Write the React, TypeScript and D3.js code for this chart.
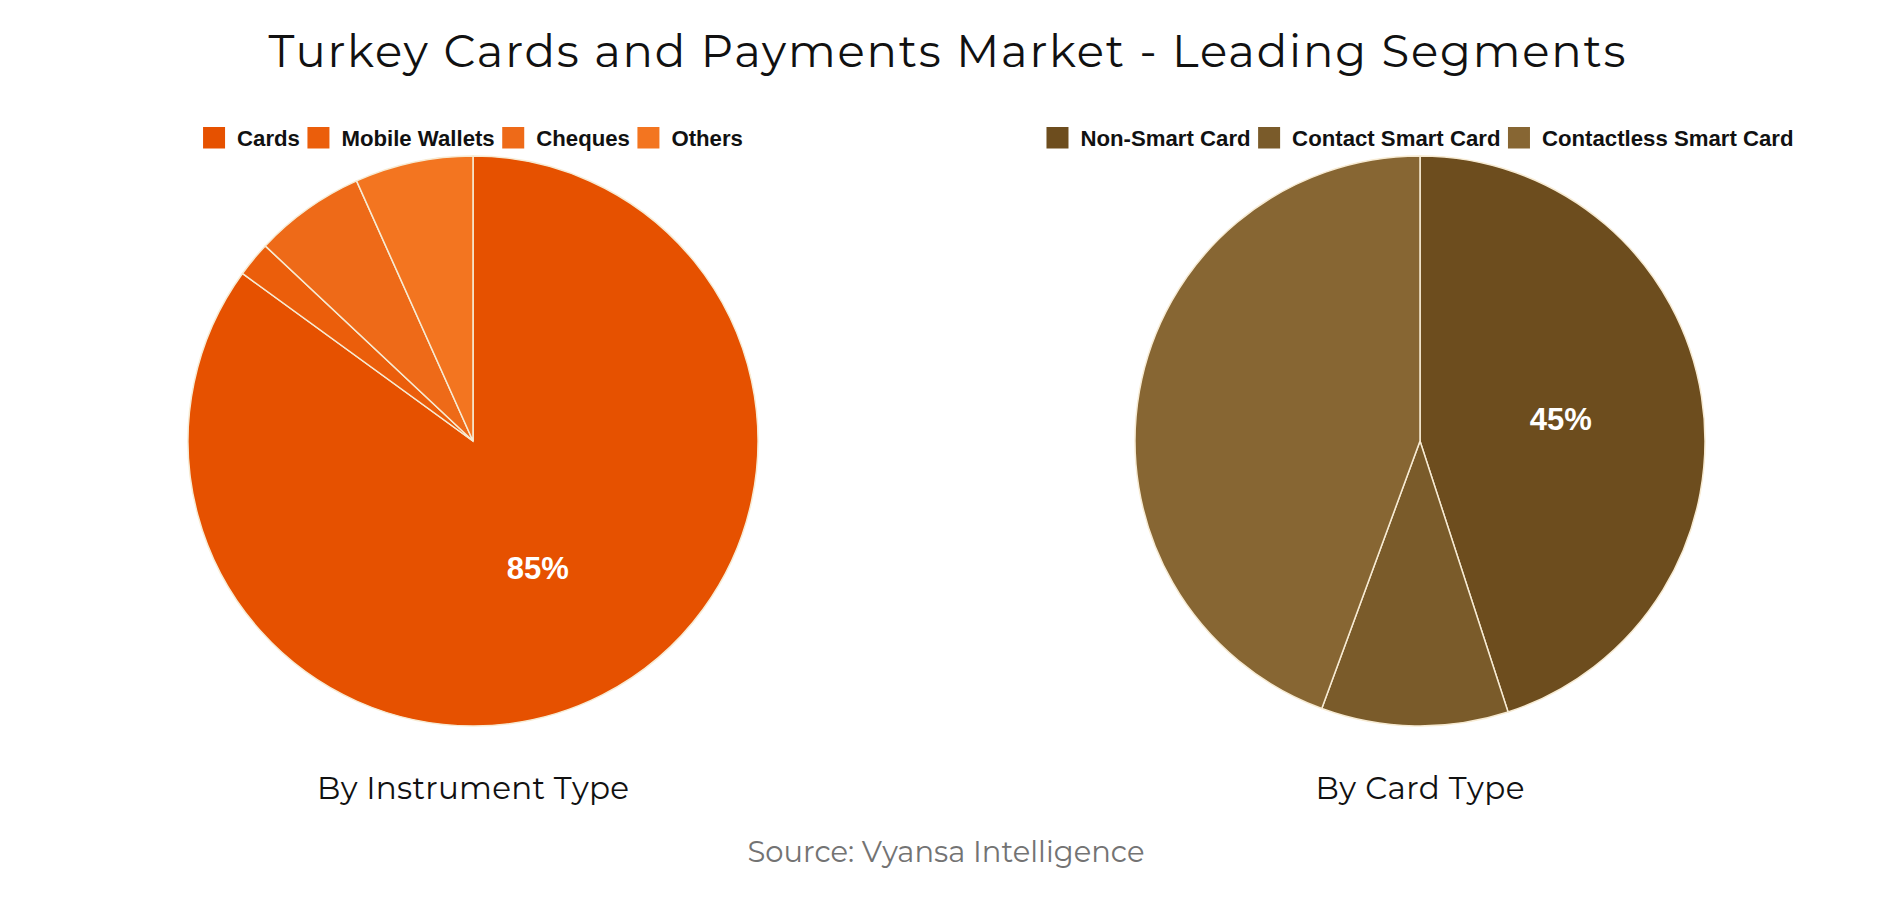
import { useEffect, useRef } from "react";
import * as d3 from "d3";

const instrumentLabels = ["Cards", "Mobile Wallets", "Cheques", "Others"];
const instrumentValues = [85, 2, 6.3, 6.7];
const instrumentColors = ["#E65100", "#EB5E0B", "#EE6A18", "#F37520"];

const cardLabels = ["Non-Smart Card", "Contact Smart Card", "Contactless Smart Card"];
const cardValues = [45, 10.6, 44.4];
const cardColors = ["#6D4D1E", "#7A5B2A", "#876633"];

const W = 1894;
const H = 900;
const R = 285;
const CY = 441;
const headFont = "Montserrat, 'Open Sans', sans-serif";
const bodyFont = "'Liberation Sans', Arial, sans-serif";

type PieSpec = {
  cx: number;
  labels: string[];
  values: number[];
  colors: string[];
  caption: string;
  captionW: number;
};

const pies: PieSpec[] = [
  { cx: 473, labels: instrumentLabels, values: instrumentValues, colors: instrumentColors, caption: "By Instrument Type", captionW: 312 },
  { cx: 1420, labels: cardLabels, values: cardValues, colors: cardColors, caption: "By Card Type", captionW: 209 },
];

export default function App() {
  const ref = useRef<SVGSVGElement>(null);

  useEffect(() => {
    if (!ref.current) return;
    document.body.style.margin = "0";
    const svg = d3.select(ref.current);
    svg.selectAll("*").remove();

    svg.append("rect").attr("width", W).attr("height", H).attr("fill", "#fff");

    svg.append("text")
      .attr("x", W / 2).attr("y", 67)
      .attr("text-anchor", "middle")
      .attr("font-family", headFont).attr("font-size", 45)
      .attr("fill", "#111")
      .attr("textLength", 1357).attr("lengthAdjust", "spacing")
      .text("Turkey Cards and Payments Market - Leading Segments");

    const pie = d3.pie<number>().sort(null).value((d) => d);
    const arc = d3.arc<d3.PieArcDatum<number>>().innerRadius(0).outerRadius(R);

    pies.forEach((p) => {
      const g = svg.append("g").attr("transform", `translate(${p.cx},${CY})`);
      const arcs = pie(p.values);
      g.selectAll("path")
        .data(arcs)
        .join("path")
        .attr("d", arc)
        .attr("fill", (_, i) => p.colors[i])
        .attr("stroke", "#F7EBD3")
        .attr("stroke-width", 1.5);

      // only the leading slice gets a label
      const [lx, ly] = arc.centroid(arcs[0]);
      g.append("text")
        .attr("x", lx).attr("y", ly)
        .attr("dy", "0.36em")
        .attr("text-anchor", "middle")
        .attr("font-family", bodyFont).attr("font-weight", "bold").attr("font-size", 31)
        .attr("fill", "#fff")
        .text(`${p.values[0]}%`);

      // legend, centred over the pie
      const leg = svg.append("g");
      const items = p.labels.map((l, i) => {
        const t = leg.append("text")
          .attr("font-family", bodyFont).attr("font-weight", "bold").attr("font-size", 22.2)
          .attr("fill", "#111")
          .attr("y", 145.5)
          .text(l);
        const w = (t.node() as SVGTextElement).getComputedTextLength();
        return { t, w, i };
      });
      const sq = 22, gapIn = 12, gapOut = 7.5;
      const total = d3.sum(items, (d) => sq + gapIn + d.w) + gapOut * (items.length - 1);
      let x = p.cx - total / 2;
      items.forEach((d) => {
        leg.append("rect")
          .attr("x", x).attr("y", 127)
          .attr("width", sq).attr("height", 21.5)
          .attr("fill", p.colors[d.i]);
        d.t.attr("x", x + sq + gapIn);
        x += sq + gapIn + d.w + gapOut;
      });

      svg.append("text")
        .attr("x", p.cx).attr("y", 799)
        .attr("text-anchor", "middle")
        .attr("font-family", headFont).attr("font-size", 31)
        .attr("fill", "#111")
        .attr("textLength", p.captionW).attr("lengthAdjust", "spacing")
        .text(p.caption);
    });

    svg.append("text")
      .attr("x", 946).attr("y", 862)
      .attr("text-anchor", "middle")
      .attr("font-family", headFont).attr("font-size", 29)
      .attr("fill", "#737373")
      .attr("textLength", 397).attr("lengthAdjust", "spacing")
      .text("Source: Vyansa Intelligence");
  }, []);

  return <svg ref={ref} width={W} height={H} style={{ display: "block" }} />;
}
